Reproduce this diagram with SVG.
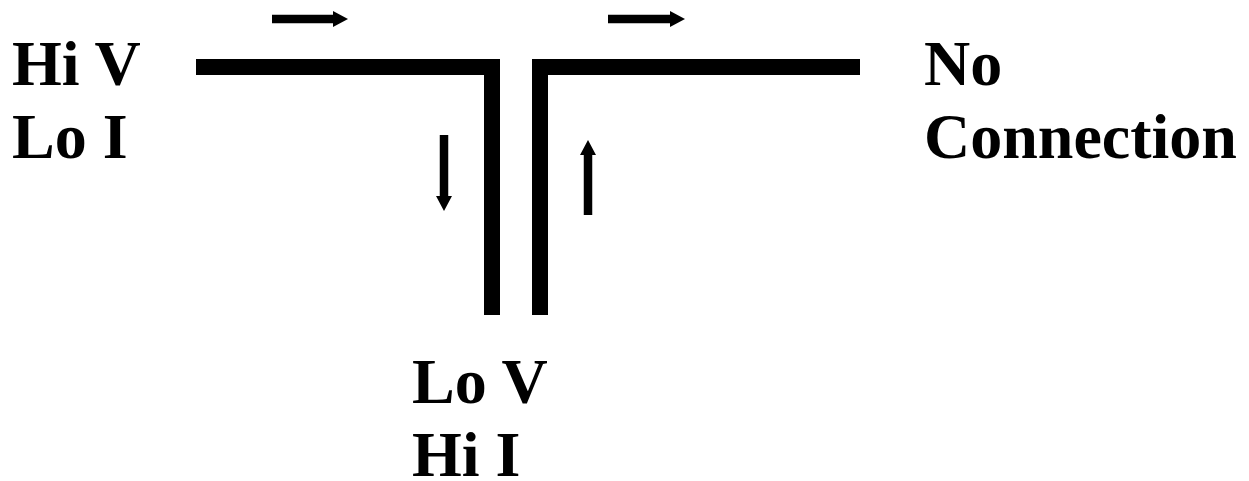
<svg xmlns="http://www.w3.org/2000/svg" width="1249" height="481" viewBox="0 0 1249 481">
<style>
.lbl{font-family:"Liberation Serif","Times New Roman",serif;font-weight:bold;font-size:64px;fill:#000}
.wire{fill:none;stroke:#000;stroke-width:16;stroke-linecap:butt;stroke-linejoin:miter}
.arr{fill:none;stroke:#000;stroke-width:8.5;marker-end:url(#ah)}
</style>
<defs>
<marker id="ah" markerUnits="userSpaceOnUse" markerWidth="16" markerHeight="16" refX="0" refY="8" orient="auto" viewBox="0 0 16 16">
<path d="M0,0 L15,8 L0,16 Z" fill="#000"/>
</marker>
</defs>
<rect width="1249" height="481" fill="#fff"/>
<g id="left-conductor"><path class="wire" d="M196,67 H492 V315"/></g>
<g id="right-conductor"><path class="wire" d="M860,67 H540 V315"/></g>
<g id="label-hiv"><text class="lbl" x="12" y="85">Hi V</text><text class="lbl" x="12" y="158">Lo I</text></g>
<g id="label-noconn"><text class="lbl" x="924" y="85">No</text><text class="lbl" x="924" y="158">Connection</text></g>
<g id="label-lov"><text class="lbl" x="412" y="403">Lo V</text><text class="lbl" x="412" y="476">Hi I</text></g>
<g id="connectors">
<line class="arr" x1="272" y1="19" x2="333" y2="19"/>
<line class="arr" x1="608" y1="19" x2="670" y2="19"/>
<line class="arr" x1="444" y1="135" x2="444" y2="196"/>
<line class="arr" x1="588" y1="215" x2="588" y2="155"/>
</g>
</svg>
